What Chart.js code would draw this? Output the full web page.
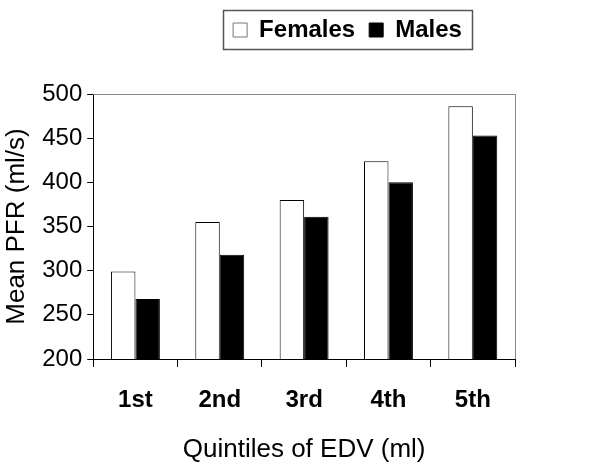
<!DOCTYPE html>
<html>
<head>
<meta charset="utf-8">
<script src="https://cdn.jsdelivr.net/npm/chart.js@4/dist/chart.umd.min.js"></script>
<style>
html,body{margin:0;padding:0;background:#fff;}
#wrap{width:600px;height:471px;}
</style>
</head>
<body>
<div id="wrap"><canvas id="c" width="600" height="471"></canvas></div>
<script>
const categories = ["1st", "2nd", "3rd", "4th", "5th"];
const females = [299, 355, 380, 424, 486];
const males = [268, 318, 361, 400, 453];
const yTicks = [200, 250, 300, 350, 400, 450, 500];
const xTitle = "Quintiles of EDV (ml)";
const yTitle = "Mean PFR (ml/s)";

const FONT = "'Liberation Sans', Arial, sans-serif";

const legendTweak = {
  id: 'legendTweak',
  beforeInit(chart) {
    const lg = chart.legend;
    const orig = lg.fit;
    lg.fit = function () { orig.call(this); this.height = 90; };
  },
  afterLayout(chart) {
    const lg = chart.legend;
    const cur = (lg.left + lg.right) / 2;
    const shift = 347.5 - cur;
    lg.left += shift; lg.right += shift;
  },
  afterDraw(chart) {
    const lg = chart.legend;
    const hb = lg.legendHitBoxes;
    if (!hb || !hb.length) return;
    let minX = Infinity, maxX = -Infinity, minY = Infinity, maxY = -Infinity;
    hb.forEach(b => {
      minX = Math.min(minX, b.left); maxX = Math.max(maxX, b.left + b.width);
      minY = Math.min(minY, b.top); maxY = Math.max(maxY, b.top + b.height);
    });
    const ctx = chart.ctx;
    ctx.save();
    ctx.strokeStyle = '#555';
    ctx.lineWidth = 1.5;
    ctx.strokeRect(Math.round(minX - 10) + 0.5, Math.round(minY - 8) + 0.5, Math.round(maxX - minX + 20), Math.round(maxY - minY + 15));
    ctx.restore();
  }
};

const frame = {
  id: 'frame',
  afterDatasetsDraw(chart) {
    const a = chart.chartArea, ctx = chart.ctx;
    ctx.save();
    ctx.strokeStyle = '#888';
    ctx.lineWidth = 1;
    ctx.beginPath();
    ctx.moveTo(a.left, a.top + 0.5);
    ctx.lineTo(a.right + 0.5, a.top + 0.5);
    ctx.lineTo(a.right + 0.5, a.bottom);
    ctx.stroke();
    ctx.restore();
  }
};

new Chart(document.getElementById('c'), {
  type: 'bar',
  data: {
    labels: categories,
    datasets: [
      { label: 'Females', data: females, backgroundColor: '#ffffff', borderColor: '#000000', borderWidth: 1, borderSkipped: 'bottom' },
      { label: 'Males', data: males, backgroundColor: '#000000', borderColor: '#000000', borderWidth: 1, borderSkipped: 'bottom' }
    ]
  },
  options: {
    responsive: false,
    animation: false,
    devicePixelRatio: 1,
    categoryPercentage: 0.58,
    barPercentage: 1,
    layout: { padding: { left: 0, right: 85, top: 4, bottom: 6 } },
    plugins: {
      legend: {
        position: 'top',
        labels: {
          color: '#000',
          font: { family: FONT, size: 24, weight: 'bold' },
          boxWidth: 14, boxHeight: 14, padding: 14,
          generateLabels(chart) {
            return chart.data.datasets.map((d, i) => ({
              text: d.label, fillStyle: d.backgroundColor,
              strokeStyle: i === 0 ? '#777' : '#000', lineWidth: 1,
              datasetIndex: i, hidden: false, fontColor: '#000'
            }));
          }
        }
      },
      tooltip: { enabled: false }
    },
    scales: {
      x: {
        grid: { display: true, offset: true, drawOnChartArea: false, drawTicks: true, tickLength: 8, color: '#000', lineWidth: 1 },
        border: { display: true, color: '#000', width: 1 },
        ticks: { color: '#000', font: { family: FONT, size: 24, weight: 'bold' }, padding: 19 },
        title: { display: true, text: xTitle, color: '#000', font: { family: FONT, size: 26 }, padding: { top: 0, bottom: 0 } }
      },
      y: {
        min: 200, max: 500,
        afterBuildTicks(scale) { scale.ticks = yTicks.map(v => ({ value: v })); },
        grid: { display: true, drawOnChartArea: false, drawTicks: true, tickLength: 6, color: '#000' },
        border: { display: true, color: '#000', width: 1 },
        ticks: { color: '#000', font: { family: FONT, size: 24 }, padding: 5 },
        title: { display: true, text: yTitle, color: '#000', font: { family: FONT, size: 26 }, padding: { top: 1, bottom: 5 } }
      }
    }
  },
  plugins: [legendTweak, frame]
});
</script>
</body>
</html>
